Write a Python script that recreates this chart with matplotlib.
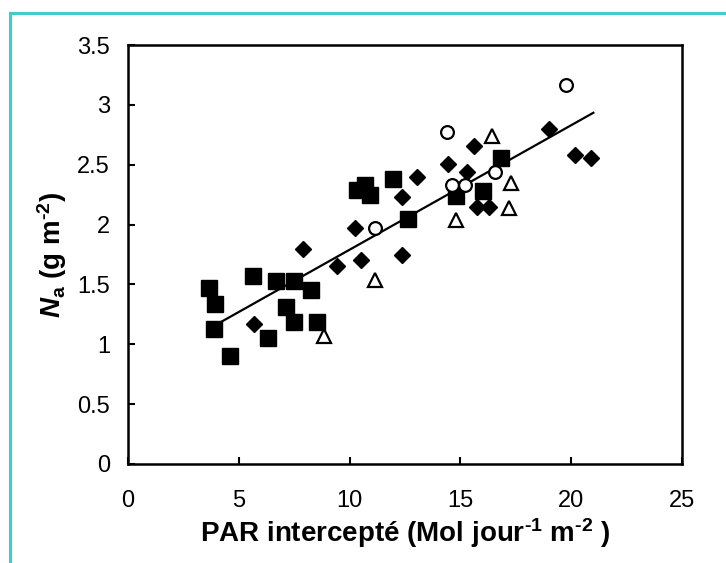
import matplotlib
matplotlib.use("Agg")
import matplotlib.pyplot as plt
from matplotlib.lines import Line2D

plt.rcParams['font.family'] = ['Liberation Sans', 'DejaVu Sans']
plt.rcParams['mathtext.fontset'] = 'custom'
plt.rcParams['mathtext.rm'] = 'Liberation Sans:bold'
plt.rcParams['mathtext.it'] = 'Liberation Sans:bold:italic'
plt.rcParams['mathtext.bf'] = 'Liberation Sans:bold'

# Filled squares
sq_x = [3.65, 3.93, 3.89, 4.60, 5.62, 6.69, 7.50, 8.26, 7.15, 7.50, 6.31, 8.55,
        10.33, 10.70, 10.93, 11.94, 12.65, 14.82, 16.01, 16.83]
sq_y = [1.47, 1.34, 1.13, 0.90, 1.57, 1.53, 1.53, 1.45, 1.31, 1.19, 1.05, 1.19,
        2.29, 2.33, 2.25, 2.38, 2.05, 2.24, 2.28, 2.56]

# Filled diamonds
dm_x = [5.69, 7.90, 9.41, 10.26, 10.51, 12.35, 12.35, 13.02, 14.44, 15.28,
        15.61, 15.74, 16.30, 18.98, 20.19, 20.90]
dm_y = [1.17, 1.80, 1.65, 1.97, 1.70, 2.23, 1.75, 2.40, 2.51, 2.44,
        2.66, 2.15, 2.15, 2.80, 2.58, 2.56]

# Open circles
ci_x = [11.14, 14.40, 14.63, 15.22, 16.56, 19.75]
ci_y = [1.97, 2.77, 2.33, 2.33, 2.44, 3.17]

# Open triangles
tr_x = [8.86, 11.14, 14.80, 16.43, 17.27, 17.20]
tr_y = [1.07, 1.54, 2.04, 2.74, 2.35, 2.14]

# Regression line
fit_slope = 0.104
fit_intercept = 0.75
fit_xrange = [4.2, 21.0]

x_ticks = [0, 5, 10, 15, 20, 25]
y_ticks = [0, 0.5, 1, 1.5, 2, 2.5, 3, 3.5]
y_tick_labels = ['0', '0.5', '1', '1.5', '2', '2.5', '3', '3.5']

fig = plt.figure(figsize=(7.26, 5.63), dpi=100)
ax = fig.add_axes([128/726, 1-464/563, (682-128)/726, (464-45)/563])

ax.plot(sq_x, sq_y, 's', color='black', ms=11.5, ls='none', zorder=3)
ax.plot(dm_x, dm_y, 'D', color='black', ms=8.0, ls='none', zorder=3)
ax.plot(ci_x, ci_y, 'o', mfc='white', mec='black', mew=1.6, ms=9.2, ls='none', zorder=4)
ax.plot(tr_x, tr_y, '^', mfc='white', mec='black', mew=1.6, ms=9.5, ls='none', zorder=4)

fx = fit_xrange
fy = [fit_slope * v + fit_intercept for v in fx]
ax.plot(fx, fy, '-', color='black', lw=1.6, zorder=2)

ax.set_xlim(0, 25)
ax.set_ylim(0, 3.5)
ax.set_xticks(x_ticks)
ax.set_yticks(y_ticks)
ax.set_yticklabels(y_tick_labels)
ax.tick_params(axis='both', direction='in', length=5, width=1.5, labelsize=17)
ax.tick_params(axis='x', pad=19)
ax.tick_params(axis='y', pad=13)
for s in ax.spines.values():
    s.set_linewidth(1.8)

ax.set_xlabel(r'PAR intercepté (Mol jour$^{\text{-1}}$ m$^{\text{-2}}$ )', fontsize=20,
              fontweight='bold', labelpad=3)
ax.set_ylabel(r'$N_{\mathrm{a}}$ (g m$^{\text{-2}}$)', fontsize=20, fontweight='bold',
              labelpad=6)

# teal frame
tc = '#3fcccc'
fig.add_artist(Line2D([10/726, 1.0], [1-13/563, 1-13/563], color=tc, lw=2.2,
                      transform=fig.transFigure))
fig.add_artist(Line2D([10/726, 10/726], [0, 1-13/563], color=tc, lw=2.2,
                      transform=fig.transFigure))

fig.savefig('out.png', dpi=100)
